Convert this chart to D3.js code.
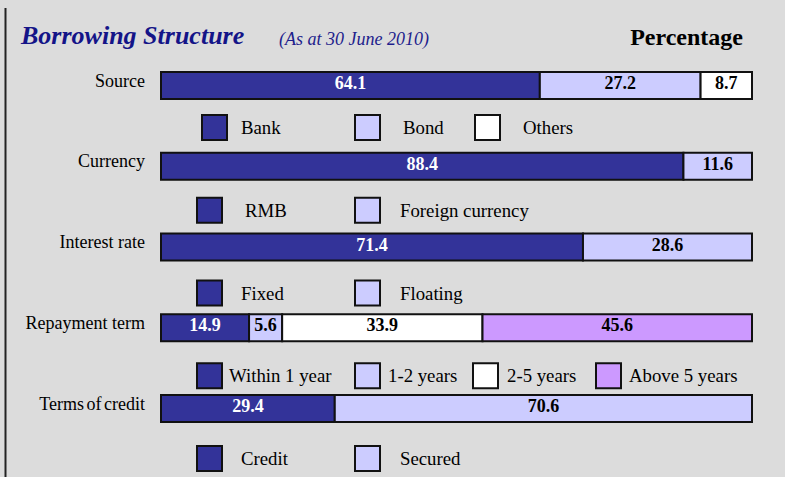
<!DOCTYPE html>
<html>
<head>
<meta charset="utf-8">
<script src="https://cdn.jsdelivr.net/npm/d3@7"></script>
<style>
html,body{margin:0;padding:0;background:#dcdcdc;}
svg{display:block;font-family:"Liberation Serif","Times New Roman",serif;}
</style>
</head>
<body>
<svg id="chart" width="785" height="477"></svg>
<script>
// ---- data ----
const categories = ["Source", "Currency", "Interest rate", "Repayment term", "Terms of credit"];
const sourceLabels = ["Bank", "Bond", "Others"];
const sourceValues = [64.1, 27.2, 8.7];
const currencyLabels = ["RMB", "Foreign currency"];
const currencyValues = [88.4, 11.6];
const rateLabels = ["Fixed", "Floating"];
const rateValues = [71.4, 28.6];
const termLabels = ["Within 1 year", "1-2 years", "2-5 years", "Above 5 years"];
const termValues = [14.9, 5.6, 33.9, 45.6];
const creditLabels = ["Credit", "Secured"];
const creditValues = [29.4, 70.6];

const titleText = "Borrowing Structure";
const subtitleText = "(As at 30 June 2010)";
const unitText = "Percentage";

// ---- styles / layout ----
const NAVY = "#333399", LAV = "#ccccff", WHITE = "#ffffff", PURPLE = "#cc99ff";
const groupColors = [
  [NAVY, LAV, WHITE],
  [NAVY, LAV],
  [NAVY, LAV],
  [NAVY, LAV, WHITE, PURPLE],
  [NAVY, LAV]
];
const groups = [
  {labels: sourceLabels, values: sourceValues},
  {labels: currencyLabels, values: currencyValues},
  {labels: rateLabels, values: rateValues},
  {labels: termLabels, values: termValues},
  {labels: creditLabels, values: creditValues}
];
const legendX = [[202, 355, 475], [197, 355], [197, 355], [197, 355, 473, 596], [197, 355]];
const legendTextOffset = [[39, 48, 48], [48, 45], [44, 45], [32, 33, 34, 33], [44, 45]];

const svg = d3.select("#chart");
svg.append("rect").attr("width", 785).attr("height", 477).attr("fill", "#dcdcdc");

// left rule
svg.append("line").attr("x1", 5.5).attr("x2", 5.5).attr("y1", 8).attr("y2", 477)
  .attr("stroke", "#222").attr("stroke-width", 2);

// titles
svg.append("text").attr("x", 21).attr("y", 44).text(titleText)
  .attr("font-size", 26).attr("font-weight", "bold").attr("font-style", "italic").attr("fill", "#141488");
svg.append("text").attr("x", 279).attr("y", 45).text(subtitleText)
  .attr("font-size", 18).attr("font-style", "italic").attr("fill", "#1e1e8c");
svg.append("text").attr("x", 743).attr("y", 45).attr("text-anchor", "end").text(unitText)
  .attr("font-size", 24).attr("font-weight", "bold").attr("fill", "#000");

const x = d3.scaleLinear().domain([0, 100]).range([161, 752]);
const barY = d3.scaleLinear().domain([0, 4]).range([72, 395]);
const legY = d3.scaleLinear().domain([0, 4]).range([115, 446]);
const barH = 27, sq = 25;

groups.forEach((g, gi) => {
  const y0 = barY(gi);
  let cum = 0;
  const segs = g.values.map((v, i) => { const s = {v, i, start: cum, end: cum + v}; cum += v; return s; });
  const G = svg.append("g");

  // category label
  G.append("text").attr("x", 145).attr("y", y0 + 14.5).attr("text-anchor", "end")
    .attr("font-size", 18).attr("fill", "#000").attr("word-spacing", gi === 4 ? -2 : 0)
    .text(categories[gi]);

  G.selectAll("rect.seg").data(segs).join("rect").attr("class", "seg")
    .attr("x", d => x(d.start)).attr("y", y0)
    .attr("width", d => x(d.end) - x(d.start)).attr("height", barH)
    .attr("fill", d => groupColors[gi][d.i])
    .attr("stroke", "#111").attr("stroke-width", 2);

  G.selectAll("text.val").data(segs).join("text").attr("class", "val")
    .attr("x", d => (x(d.start) + x(d.end)) / 2).attr("y", y0 + 17)
    .attr("text-anchor", "middle").attr("font-size", 18).attr("font-weight", "bold")
    .attr("fill", d => groupColors[gi][d.i] === NAVY ? "#fff" : "#000")
    .text(d => d3.format(".1f")(d.v));

  // legend
  const ly = legY(gi);
  const L = svg.append("g");
  g.labels.forEach((lab, i) => {
    const lx = legendX[gi][i];
    L.append("rect").attr("x", lx).attr("y", ly).attr("width", sq).attr("height", sq)
      .attr("fill", groupColors[gi][i]).attr("stroke", "#111").attr("stroke-width", 2);
    L.append("text").attr("x", lx + legendTextOffset[gi][i]).attr("y", ly + sq / 2 + 6.5)
      .attr("font-size", 18.8).attr("fill", "#000").text(lab);
  });
});
</script>
</body>
</html>
